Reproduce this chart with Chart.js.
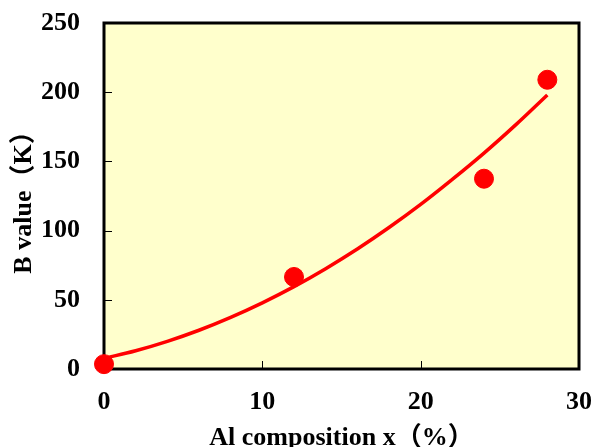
<!DOCTYPE html>
<html>
<head>
<meta charset="utf-8">
<script src="https://cdn.jsdelivr.net/npm/chart.js@4/dist/chart.umd.min.js"></script>
<style>
  html, body { margin: 0; padding: 0; background: #ffffff; }
  #wrap { width: 594px; height: 447px; }
</style>
</head>
<body>
<div id="wrap"><canvas id="bChart" width="594" height="447"></canvas></div>
<script>
// measured points
const compX = [0, 12, 24, 28];
const bValues = [3.5, 66.5, 137.5, 209];

// fitted curve
const fitX = [0, 2, 4, 6, 8, 10, 12, 14, 16, 18, 20, 22, 24, 26, 28];
const fitY = [7.7, 13.2, 20, 28, 37.3, 47.8, 59.5, 72.5, 86.7, 102.2, 118.9, 137, 156, 176.4, 198];

const xTicks = [0, 10, 20, 30];
const yTicks = [0, 50, 100, 150, 200, 250];

const serif = '"Times New Roman", "Liberation Serif", "DejaVu Serif", "Noto Sans CJK JP", serif';

const plotFrame = {
    id: 'plotFrame',
    beforeDatasetsDraw(chart) {
        const { ctx, chartArea: a, scales } = chart;
        ctx.save();
        ctx.fillStyle = '#FFFFCC';
        ctx.fillRect(a.left, a.top, a.right - a.left, a.bottom - a.top);

        // small inward tick marks
        ctx.strokeStyle = '#000';
        ctx.lineWidth = 1;
        ctx.beginPath();
        xTicks.slice(1, -1).forEach(function(v) {
            const px = Math.round(scales.x.getPixelForValue(v)) + 0.5;
            ctx.moveTo(px, a.bottom);
            ctx.lineTo(px, a.bottom - 8);
        });
        yTicks.slice(1, -1).forEach(function(v) {
            const py = Math.round(scales.y.getPixelForValue(v)) + 0.5;
            ctx.moveTo(a.left, py);
            ctx.lineTo(a.left + 8, py);
        });
        ctx.stroke();

        ctx.lineWidth = 3;
        ctx.strokeRect(a.left, a.top, a.right - a.left, a.bottom - a.top);
        ctx.restore();
    }
};

// let layout padding alone decide where the plot box sits
function noOverhang(scale) {
    scale.paddingLeft = 0;
    scale.paddingRight = 0;
    scale.paddingTop = 0;
    scale.paddingBottom = 0;
}

const ctx = document.getElementById('bChart').getContext('2d');
new Chart(ctx, {
    type: 'scatter',
    data: {
        datasets: [{
            type: 'line',
            data: fitX.map(function(x, i) { return { x: x, y: fitY[i] }; }),
            borderColor: '#FF0000',
            borderWidth: 3.5,
            pointRadius: 0,
            tension: 0.4,
            fill: false,
            clip: false
        }, {
            data: compX.map(function(x, i) { return { x: x, y: bValues[i] }; }),
            backgroundColor: '#FF0000',
            borderColor: '#FF0000',
            pointRadius: 9.5,
            pointHoverRadius: 9.5,
            clip: false
        }]
    },
    options: {
        responsive: false,
        animation: false,
        layout: { padding: { top: 23, right: 15, left: 0, bottom: 0 } },
        plugins: {
            legend: { display: false },
            tooltip: { enabled: false }
        },
        scales: {
            x: {
                type: 'linear',
                min: 0,
                max: 30,
                grid: { display: false, drawTicks: false },
                border: { display: false },
                afterFit: function(scale) { scale.height = 78; noOverhang(scale); },
                ticks: {
                    stepSize: 10,
                    color: '#000',
                    padding: 18,
                    maxRotation: 0,
                    font: { family: serif, size: 26, weight: 'bold' }
                },
                title: {
                    display: true,
                    text: 'Al composition x（%）',
                    color: '#000',
                    padding: { top: 0, bottom: -4 },
                    font: { family: serif, size: 26, weight: 'bold', lineHeight: 1 }
                }
            },
            y: {
                min: 0,
                max: 250,
                grid: { display: false, drawTicks: false },
                border: { display: false },
                afterFit: function(scale) { scale.width = 104; noOverhang(scale); },
                ticks: {
                    stepSize: 50,
                    color: '#000',
                    padding: 24,
                    font: { family: serif, size: 26, weight: 'bold' }
                },
                title: {
                    display: true,
                    text: 'B value（K）',
                    color: '#000',
                    padding: { top: 9, bottom: 0 },
                    font: { family: serif, size: 26, weight: 'bold' }
                }
            }
        }
    },
    plugins: [plotFrame]
});
</script>
</body>
</html>
